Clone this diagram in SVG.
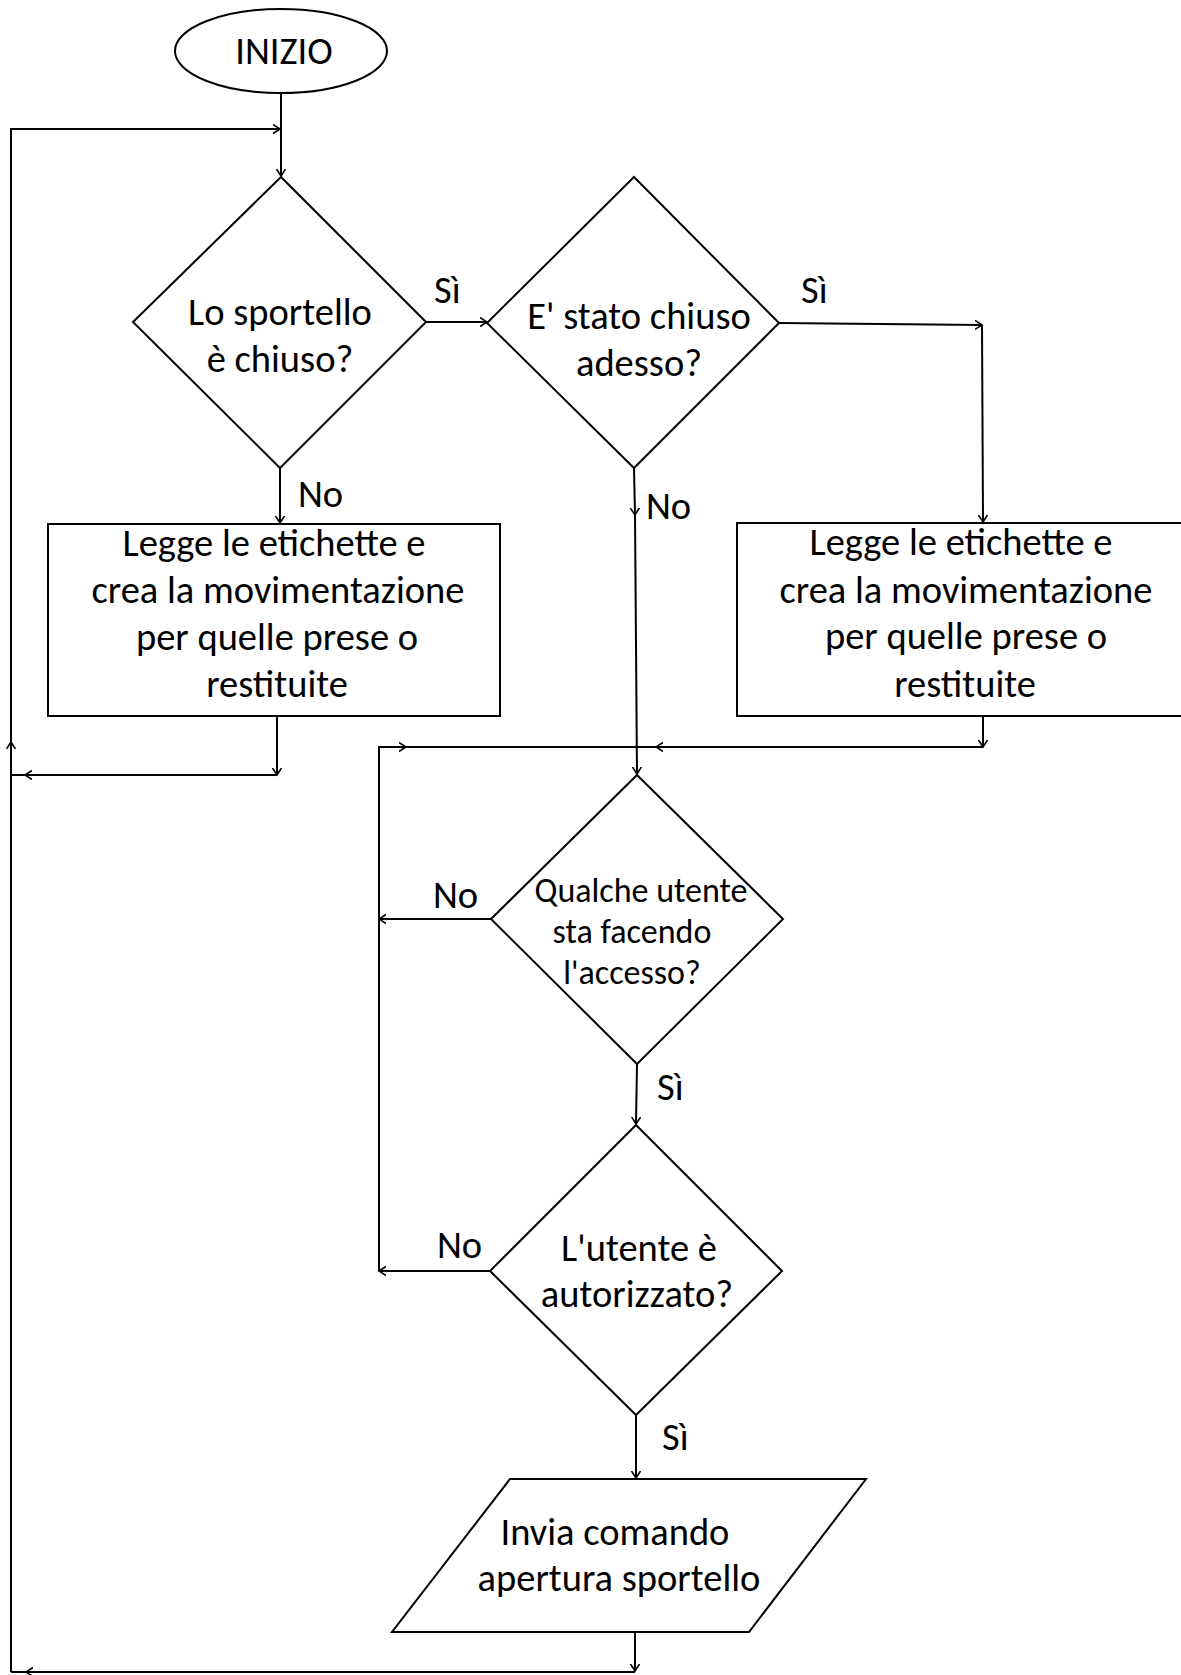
<svg xmlns="http://www.w3.org/2000/svg" width="1181" height="1675" viewBox="0 0 1181 1675">
<style>
.s{fill:#fff;stroke:#000;stroke-width:2}
.c{fill:none;stroke:#000;stroke-width:2}
text{font-family:Calibri,Carlito,Lato,"Liberation Sans",sans-serif;font-size:38.5px;fill:#000;text-anchor:middle}
.sm{font-size:34px}
.l{text-anchor:start}
</style>
<defs>
<marker id="a" markerWidth="12" markerHeight="12" refX="7" refY="5" orient="auto" markerUnits="userSpaceOnUse">
<path d="M0,0.5 L7,5 L0,9.5" fill="none" stroke="#000" stroke-width="1.6"/>
</marker>
</defs>
<rect width="1181" height="1675" fill="#fff"/>
<g id="connectors">
<path class="c" d="M281,93 L281,176" marker-end="url(#a)"/>
<path class="c" d="M11,1672 L11,742" marker-end="url(#a)"/>
<path class="c" d="M11,742 L11,129 L280,129" marker-end="url(#a)"/>
<path class="c" d="M280,468 L280,523" marker-end="url(#a)"/>
<path class="c" d="M426,322 L487,322" marker-end="url(#a)"/>
<path class="c" d="M779,323 L982,325" marker-end="url(#a)"/>
<path class="c" d="M982,325 L983,522" marker-end="url(#a)"/>
<path class="c" d="M634,468 L635,515" marker-end="url(#a)"/>
<path class="c" d="M635,515 L637,774" marker-end="url(#a)"/>
<path class="c" d="M983,716 L983,747" marker-end="url(#a)"/>
<path class="c" d="M983,747 L656,747" marker-end="url(#a)"/>
<path class="c" d="M656,747 L637,747"/>
<path class="c" d="M277,716 L277,775" marker-end="url(#a)"/>
<path class="c" d="M277,775 L25,775" marker-end="url(#a)"/>
<path class="c" d="M25,775 L11,775"/>
<path class="c" d="M491,919 L379,919" marker-end="url(#a)"/>
<path class="c" d="M490,1271 L379,1271" marker-end="url(#a)"/>
<path class="c" d="M379,1271 L379,747 L406,747" marker-end="url(#a)"/>
<path class="c" d="M406,747 L637,747"/>
<path class="c" d="M637,1064 L636,1124" marker-end="url(#a)"/>
<path class="c" d="M636,1415 L636,1478" marker-end="url(#a)"/>
<path class="c" d="M635,1632 L635,1671" marker-end="url(#a)"/>
<path class="c" d="M635,1672 L26,1672" marker-end="url(#a)"/>
<path class="c" d="M26,1672 L11,1672"/>
</g>
<g id="start">
<ellipse class="s" cx="281" cy="51" rx="106" ry="42"/>
<text x="284" y="64">INIZIO</text>
</g>
<g id="d1">
<polygon class="s" points="281,177 426,322 280,468 133,322"/>
<text x="280" y="325">Lo sportello</text>
<text x="280" y="372">è chiuso?</text>
</g>
<g id="d2">
<polygon class="s" points="634,177 779,323 634,468 487,323"/>
<text x="639" y="329">E' stato chiuso</text>
<text x="639" y="376">adesso?</text>
</g>
<g id="box1">
<rect class="s" x="48" y="524" width="452" height="192"/>
<text x="274" y="556">Legge le etichette e</text>
<text x="278" y="603">crea la movimentazione</text>
<text x="277" y="650">per quelle prese o</text>
<text x="277" y="697">restituite</text>
</g>
<g id="box2">
<rect class="s" x="737" y="523" width="450" height="193"/>
<text x="961" y="555">Legge le etichette e</text>
<text x="966" y="603">crea la movimentazione</text>
<text x="966" y="649">per quelle prese o</text>
<text x="965" y="697">restituite</text>
</g>
<g id="d3">
<polygon class="s" points="637,775 783,919 637,1064 491,919"/>
<text class="sm" x="641" y="902">Qualche utente</text>
<text class="sm" x="632" y="943">sta facendo</text>
<text class="sm" x="632" y="984">l'accesso?</text>
</g>
<g id="d4">
<polygon class="s" points="636,1125 782,1271 636,1415 490,1271"/>
<text x="639" y="1261">L'utente è</text>
<text x="637" y="1307">autorizzato?</text>
</g>
<g id="io">
<polygon class="s" points="510,1479 866,1479 749,1632 392,1632"/>
<text x="615" y="1545">Invia comando</text>
<text x="619" y="1591">apertura sportello</text>
</g>
<g id="labels">
<text class="l" x="434" y="303">Sì</text>
<text class="l" x="801" y="303">Sì</text>
<text class="l" x="298" y="507">No</text>
<text class="l" x="646" y="519">No</text>
<text class="l" x="433" y="908">No</text>
<text class="l" x="657" y="1100">Sì</text>
<text class="l" x="437" y="1258">No</text>
<text class="l" x="662" y="1450">Sì</text>
</g>
</svg>
